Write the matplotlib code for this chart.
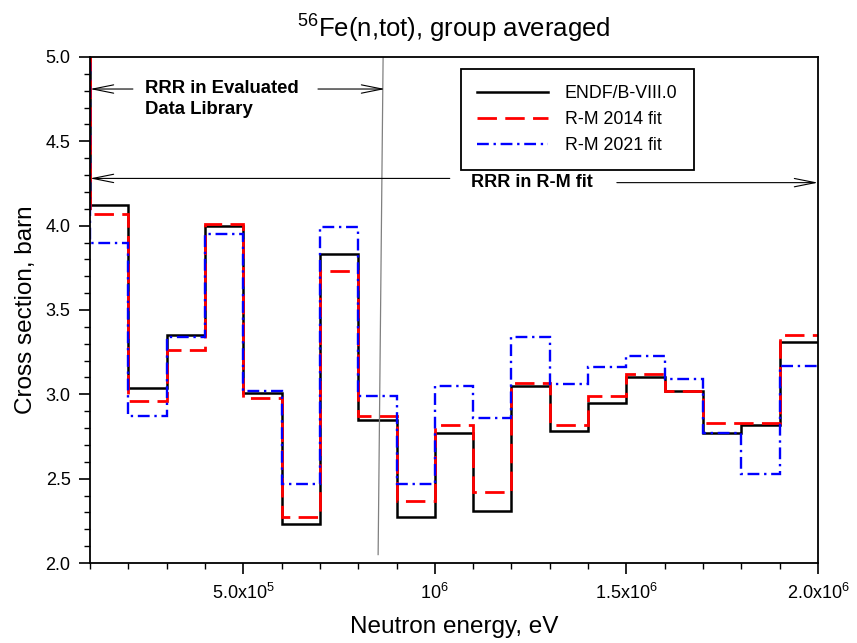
import numpy as np
import matplotlib
matplotlib.use("Agg")
import matplotlib.pyplot as plt

plt.rcParams['font.family'] = ['Liberation Sans', 'DejaVu Sans']
plt.rcParams['mathtext.fontset'] = 'custom'
plt.rcParams['mathtext.rm'] = 'Liberation Sans'

# group boundaries (eV); first group below 1e5 is off-scale
edges = np.array([0, 1, 2, 3, 4, 5, 6, 7, 8, 9, 10, 11, 12, 13, 14, 15, 16, 17, 18, 19, 20]) * 1e5

endf = [5.3, 4.12, 3.04, 3.35, 4.00, 3.01, 2.23, 3.83, 2.85, 2.27,
        2.77, 2.31, 3.05, 2.78, 2.95, 3.10, 3.02, 2.77, 2.82, 3.31]
rm2014 = [5.3, 4.07, 2.96, 3.26, 4.01, 2.98, 2.27, 3.73, 2.87, 2.37,
          2.82, 2.42, 3.07, 2.82, 2.99, 3.12, 3.02, 2.83, 2.83, 3.35]
rm2021 = [5.3, 3.90, 2.87, 3.34, 3.95, 3.02, 2.47, 3.99, 2.99, 2.47,
          3.05, 2.86, 3.34, 3.06, 3.16, 3.23, 3.09, 2.77, 2.53, 3.17]

xticks = [5e5, 1e6, 1.5e6, 2e6]
xticklabels = ['5.0x10$^5$', '10$^6$', '1.5x10$^6$', '2.0x10$^6$']
yticks = [2.0, 2.5, 3.0, 3.5, 4.0, 4.5, 5.0]

fig = plt.figure(figsize=(8.57, 6.43), dpi=100)
ax = fig.add_axes([0.105, 0.1244, 0.8495, 0.787])

ax.stairs(endf, edges, baseline=None, color='black', lw=1.8, label='ENDF/B-VIII.0')
ax.stairs(rm2014, edges, baseline=None, color='red', lw=2.0, linestyle=(0, (7, 3)),
          label='R-M 2014 fit')
ax.stairs(rm2021, edges, baseline=None, color='blue', lw=1.7, linestyle=(0, (5, 2, 1, 2)),
          label='R-M 2021 fit')

ax.set_xlim(1e5, 2e6)
ax.set_ylim(2.0, 5.0)
ax.set_xticks(xticks)
ax.set_xticklabels(xticklabels)
ax.set_xticks(np.arange(1e5, 2.01e6, 1e5), minor=True)
ax.set_yticks(yticks)
ax.set_yticklabels(['%.1f' % v for v in yticks])
ax.set_yticks(np.arange(2.0, 5.01, 0.1), minor=True)
ax.tick_params(which='major', direction='out', length=8, width=1.2, labelsize=13, pad=6)
ax.tick_params(which='minor', direction='out', length=4, width=1.0)
for s in ax.spines.values():
    s.set_linewidth(1.3)

ax.set_xlabel('Neutron energy, eV', fontsize=17.5, labelpad=10)
ax.set_ylabel('Cross section, barn', fontsize=17.5, labelpad=6)
ax.set_title('$^{56}$Fe(n,tot), group averaged', fontsize=18.5, pad=15)

# boundary of resolved resonance region in evaluation
ax.plot([8.52e5, 8.65e5], [2.05, 5.0], color='gray', lw=0.9)

arr = dict(arrowstyle='->,head_length=1.5,head_width=0.3', lw=0.8, color='black',
           shrinkA=0, shrinkB=0)
ax.annotate('', xy=(1e5, 4.81), xytext=(2.12e5, 4.81), arrowprops=arr)
ax.annotate('', xy=(8.7e5, 4.81), xytext=(6.95e5, 4.81), arrowprops=arr)
ax.text(2.43e5, 4.865, 'RRR in Evaluated\nData Library', fontsize=13.3,
        fontweight='bold', va='top', ha='left', linespacing=1.3)

ax.annotate('', xy=(1e5, 4.28), xytext=(1.039e6, 4.28), arrowprops=arr)
ax.annotate('', xy=(2e6, 4.255), xytext=(1.475e6, 4.255), arrowprops=arr)
ax.text(1.253e6, 4.255, 'RRR in R-M fit', fontsize=13, fontweight='bold',
        va='center', ha='center')

leg = ax.legend(loc='upper left', bbox_to_anchor=(0.5096, 0.976), borderaxespad=0,
                fontsize=12.8, handlelength=4.0, handletextpad=0.95, fancybox=False,
                framealpha=1, edgecolor='black', borderpad=0.9, labelspacing=0.5)
leg.get_frame().set_linewidth(1.3)

fig.savefig('out.png', dpi=100)
